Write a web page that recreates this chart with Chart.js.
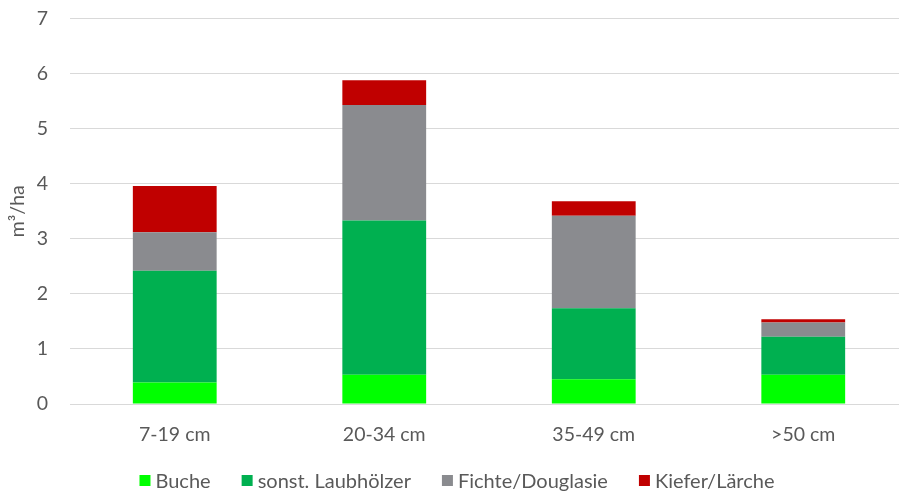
<!DOCTYPE html>
<html>
<head>
<meta charset="utf-8">
<script src="https://cdn.jsdelivr.net/npm/chart.js@4"></script>
<style>
  html, body { margin: 0; padding: 0; background: #fff; overflow: hidden; }
  #wrap { width: 908px; height: 491px; position: relative; }
</style>
</head>
<body>
<div id="wrap"><canvas id="c"></canvas></div>
<script>
// Stammdurchmesser-Klassen
const categories = ['7-19 cm', '20-34 cm', '35-49 cm', '>50 cm'];

// Vorrat je Baumartengruppe in m³/ha
const buche       = [0.39, 0.53, 0.45, 0.53];
const laubhoelzer = [2.03, 2.80, 1.29, 0.69];
const fichte      = [0.70, 2.10, 1.68, 0.26];
const kiefer      = [0.84, 0.45, 0.26, 0.06];

const yTicks = [0, 1, 2, 3, 4, 5, 6, 7];

const FONT = 'Lato, "Open Sans", sans-serif';
const TEXT = '#595959';

// Legende unterhalb der Achse, zentriert, mit quadratischen Farbfeldern
const bottomLegend = {
  id: 'bottomLegend',
  afterDraw(chart, args, opts) {
    const ctx = chart.ctx;
    const items = chart.data.datasets.map(d => ({ label: d.label, color: d.backgroundColor }));
    ctx.save();
    ctx.font = opts.size + 'px ' + FONT;
    ctx.textBaseline = 'middle';
    const widths = items.map(it => opts.box + opts.gap + ctx.measureText(it.label).width);
    const total = widths.reduce((a, b) => a + b, 0) + opts.spacing * (items.length - 1);
    let x = opts.centerX - total / 2;
    const y = opts.y;
    items.forEach((it, i) => {
      ctx.fillStyle = it.color;
      ctx.fillRect(x, y - opts.box / 2, opts.box, opts.box);
      ctx.fillStyle = TEXT;
      ctx.fillText(it.label, x + opts.box + opts.gap, y + 1);
      x += widths[i] + opts.spacing;
    });
    ctx.restore();
  }
};

new Chart(document.getElementById('c'), {
  type: 'bar',
  data: {
    labels: categories,
    datasets: [
      { label: 'Buche', data: buche, backgroundColor: '#00FF00' },
      { label: 'sonst. Laubhölzer', data: laubhoelzer, backgroundColor: '#00B050' },
      { label: 'Fichte/Douglasie', data: fichte, backgroundColor: '#8A8B8F' },
      { label: 'Kiefer/Lärche', data: kiefer, backgroundColor: '#C00000' }
    ]
  },
  plugins: [bottomLegend],
  options: {
    responsive: true,
    maintainAspectRatio: false,
    animation: false,
    layout: { padding: { top: 18.5, right: 0, left: 6, bottom: 0 } },
    datasets: { bar: { categoryPercentage: 0.8, barPercentage: 0.5, borderWidth: 0 } },
    plugins: {
      tooltip: { enabled: false },
      legend: { display: false },
      bottomLegend: { y: 480.5, size: 20, box: 11, gap: 5, spacing: 31, centerX: 457 }
    },
    scales: {
      x: {
        stacked: true,
        grid: { display: false },
        border: { color: '#D9D9D9' },
        ticks: { color: TEXT, font: { family: FONT, size: 19.5 }, padding: 11.5 },
        afterFit: (s) => { s.height = 87; }
      },
      y: {
        stacked: true,
        min: 0,
        max: 7,
        afterBuildTicks: (s) => { s.ticks = yTicks.map(v => ({ value: v })); },
        grid: { color: '#D9D9D9', drawTicks: false },
        border: { display: false },
        ticks: { color: TEXT, font: { family: FONT, size: 19.5 }, padding: 22 },
        title: {
          display: true,
          text: 'm³/ha',
          color: TEXT,
          font: { family: FONT, size: 19.5 },
          padding: 0
        },
        afterFit: (s) => { s.width = 64; s.paddingTop = 0; s.paddingBottom = 0; }
      }
    }
  }
});
</script>
</body>
</html>
